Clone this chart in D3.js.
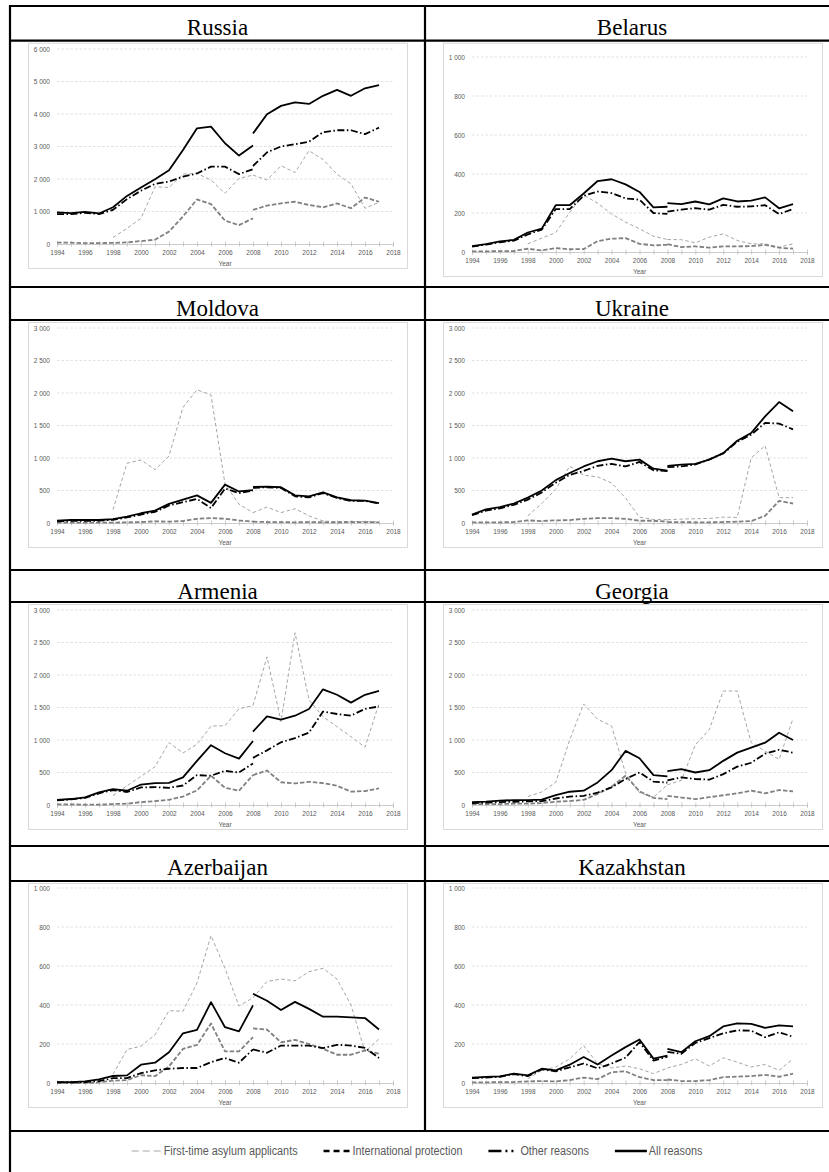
<!DOCTYPE html>
<html>
<head>
<meta charset="utf-8">
<script src="https://cdn.jsdelivr.net/npm/d3@7"></script>
<style>
body { margin: 0; background: #fff; }
svg { display: block; }
</style>
</head>
<body>
<svg id="page" width="829" height="1172"></svg>
<script>
// years: values up to 2008 use the old series, from 2008 the new one (break in 2008)
var yearsOld = [1994,1995,1996,1997,1998,1999,2000,2001,2002,2003,2004,2005,2006,2007,2008];
var yearsNew = [2008,2009,2010,2011,2012,2013,2014,2015,2016,2017];
var yearTicks = [1994,1995,1996,1997,1998,1999,2000,2001,2002,2003,2004,2005,2006,2007,2008,2009,2010,2011,2012,2013,2014,2015,2016,2017,2018];

var countries = ["Russia","Belarus","Moldova","Ukraine","Armenia","Georgia","Azerbaijan","Kazakhstan"];
var yMaxes = [6000,1000,3000,3000,3000,3000,1000,1000];
var ySteps = [1000,200,500,500,500,500,200,200];
var seriesNames = ["First-time asylum applicants","International protection","Other reasons","All reasons"];

// each array: 15 old values (1994-2008) then 10 new values (2008-2017)
var russiaFirst = [null,null,null,null,200,480,790,1760,1740,2150,2170,1970,1560,2020,2120, 2120,1970,2410,2200,2870,2600,2150,1850,1100,1280];
var russiaProt  = [40,40,25,25,35,50,90,130,380,850,1370,1230,720,580,790, 1050,1180,1250,1300,1200,1130,1250,1100,1430,1300];
var russiaOther = [920,920,960,920,1050,1380,1640,1850,1920,2070,2170,2380,2380,2150,2300, 2400,2820,3000,3070,3150,3440,3500,3500,3380,3580];
var russiaAll   = [970,950,990,940,1130,1480,1740,1990,2270,2890,3560,3610,3100,2720,3030, 3400,3990,4250,4360,4310,4560,4740,4560,4790,4890];

var belarusFirst = [null,null,null,null,42,71,100,203,292,250,195,153,119,81,64, 64,63,47,76,93,59,42,42,25,42];
var belarusProt  = [3,3,5,5,17,8,20,14,15,56,68,71,42,34,37, 40,25,29,22,29,29,30,37,22,17];
var belarusOther = [28,38,50,58,90,115,220,220,288,310,302,275,268,200,195, 207,217,225,217,242,232,234,240,195,220];
var belarusAll   = [30,40,55,62,100,120,240,240,300,364,373,347,308,229,232, 251,246,259,244,275,259,263,280,224,246];

var moldovaFirst = [null,null,null,null,205,920,970,820,1030,1780,2050,1970,600,290,160, 160,245,160,220,110,30,20,25,20,15];
var moldovaProt  = [5,5,5,5,5,10,15,25,20,30,65,75,65,40,20, 20,15,15,10,15,10,10,15,15,10];
var moldovaOther = [25,35,35,35,50,85,130,170,270,320,370,230,530,460,500, 540,550,540,410,395,460,385,340,340,300];
var moldovaAll   = [36,46,46,46,60,98,150,190,294,360,425,310,590,485,505, 555,560,550,425,410,470,395,350,345,305];

var ukraineFirst = [null,null,null,null,110,300,520,875,735,710,615,385,90,55,50, 50,60,65,70,90,85,1000,1190,390,390];
var ukraineProt  = [10,10,10,15,40,30,40,45,65,75,75,65,35,35,20, 15,15,10,10,15,20,30,110,340,300];
var ukraineOther = [120,190,225,280,360,470,620,740,800,880,910,870,940,810,800, 860,870,900,980,1070,1250,1360,1540,1530,1440];
var ukraineAll   = [130,210,245,300,390,500,660,770,870,950,990,950,975,835,805, 880,897,910,975,1075,1265,1385,1640,1860,1720];

var armeniaFirst = [null,null,null,null,145,296,440,590,960,800,935,1214,1220,1480,1530, 1530,2280,1285,2650,1615,1360,1205,1050,890,1560];
var armeniaProt  = [10,10,5,5,15,20,45,60,80,130,225,450,265,220,460, 460,530,350,332,357,337,296,205,215,255];
var armeniaOther = [70,85,110,180,230,200,270,275,265,300,460,450,525,500,640, 725,840,965,1030,1115,1438,1400,1375,1480,1515];
var armeniaAll   = [80,92,117,194,245,219,315,335,340,425,680,920,796,714,985, 1130,1362,1312,1374,1476,1780,1696,1575,1696,1755];

var georgiaFirst = [null,null,null,null,130,200,350,1000,1555,1320,1215,490,190,120,310, 310,380,925,1160,1754,1754,960,830,700,1330];
var georgiaProt  = [15,15,15,20,20,30,50,60,80,170,280,450,210,110,90, 140,115,90,120,150,180,220,180,230,210];
var georgiaOther = [30,35,45,50,55,60,100,130,140,190,270,400,500,360,345, 380,425,400,390,475,590,650,790,850,805];
var georgiaAll   = [45,51,66,76,76,82,153,204,220,347,536,832,720,459,439, 520,551,500,536,679,806,883,959,1112,1000];

var azerFirst = [null,null,null,null,45,172,189,247,371,368,513,756,588,395,437, 437,521,533,524,571,588,533,400,160,226];
var azerProt  = [0,0,0,3,12,15,40,35,85,175,195,305,162,162,235, 280,274,209,221,200,175,145,145,167,150];
var azerOther = [3,3,5,10,25,25,51,65,73,77,77,107,128,104,172, 172,155,192,192,192,179,196,192,180,128];
var azerAll   = [5,5,8,19,36,39,94,104,158,255,272,415,286,265,398, 458,422,374,416,380,340,340,337,333,274];

var kazFirst = [null,null,null,null,22,65,82,124,192,99,77,87,73,48,77, 77,95,124,87,129,107,82,95,65,124];
var kazProt  = [3,3,5,5,8,10,8,15,28,20,55,60,30,15,15, 18,10,10,15,30,33,35,42,32,48];
var kazOther = [25,28,32,45,35,70,60,80,100,75,100,130,210,115,135, 160,150,205,230,255,270,268,235,260,237];
var kazAll   = [27,31,34,48,39,73,65,94,133,95,141,184,223,125,140, 175,158,214,240,290,306,303,283,295,290];

var countrySeries = [
	[russiaFirst, russiaProt, russiaOther, russiaAll],
	[belarusFirst, belarusProt, belarusOther, belarusAll],
	[moldovaFirst, moldovaProt, moldovaOther, moldovaAll],
	[ukraineFirst, ukraineProt, ukraineOther, ukraineAll],
	[armeniaFirst, armeniaProt, armeniaOther, armeniaAll],
	[georgiaFirst, georgiaProt, georgiaOther, georgiaAll],
	[azerFirst, azerProt, azerOther, azerAll],
	[kazFirst, kazProt, kazOther, kazAll]
];

// line looks inside the charts
var lineStyles = [
	{stroke: "#a6a6a6", width: 1, dash: "3.5,2.5"},
	{stroke: "#808080", width: 1.8, dash: "4.5,2"},
	{stroke: "#000", width: 1.8, dash: "7,2.5,1.5,2.5"},
	{stroke: "#000", width: 1.8, dash: null}
];
// line looks in the legend
var legendStyles = [
	{stroke: "#a6a6a6", width: 1.2, dash: "7,4", len: 30},
	{stroke: "#000", width: 2.4, dash: "6,4", len: 27},
	{stroke: "#000", width: 2.4, dash: "13,4,2,4,2,10", len: 30},
	{stroke: "#000", width: 2.4, dash: null, len: 32}
];

// table layout
var rowTops = [6, 287, 570, 846];
var titleBottoms = [40.7, 320, 602, 881];
var rowBottoms = [287, 570, 846, 1131];
var cols = [
	{boxL: 28, boxR: 407, plotL: 57, plotR: 393, titleX: 217.5},
	{boxL: 443, boxR: 822, plotL: 472, plotR: 807, titleX: 632}
];
var plotTops = [49, 57, 328, 328, 610, 610, 888, 888];
var plotH = 195;

var axisFont = "'Liberation Sans Narrow', 'Liberation Sans', Arial, sans-serif";
var locale = d3.formatLocale({decimal: ".", thousands: " ", grouping: [3], currency: ["", ""]});
var fmt = locale.format(",");

var svg = d3.select("#page");
svg.append("rect").attr("width", 829).attr("height", 1172).attr("fill", "#fff");

countries.forEach(function(name, k) {
	var row = Math.floor(k / 2);
	var col = cols[k % 2];
	var top = plotTops[k];
	var zero = top + plotH;

	var g = svg.append("g").attr("class", "panel");

	// title
	g.append("text")
		.attr("x", col.titleX)
		.attr("y", rowTops[row] + 28.5)
		.attr("text-anchor", "middle")
		.style("font-family", "'Liberation Serif', 'Times New Roman', serif")
		.style("font-size", "23px")
		.text(name);

	// chart area border
	g.append("rect")
		.attr("x", col.boxL + 0.5)
		.attr("y", titleBottoms[row] + 2.5)
		.attr("width", col.boxR - col.boxL)
		.attr("height", zero + 24 - titleBottoms[row] - 2)
		.attr("fill", "#fff")
		.attr("stroke", "#d9d9d9")
		.attr("stroke-width", 1);

	var x = d3.scaleLinear().domain([1994, 2018]).range([col.plotL, col.plotR]);
	var y = d3.scaleLinear().domain([0, yMaxes[k]]).range([zero, top]);
	var yTicks = d3.range(0, yMaxes[k] + 1, ySteps[k]);

	// gridlines
	g.append("g").selectAll("line")
		.data(yTicks.filter(function(d) { return d > 0; }))
		.enter().append("line")
		.attr("x1", col.plotL).attr("x2", col.plotR)
		.attr("y1", function(d) { return y(d); })
		.attr("y2", function(d) { return y(d); })
		.attr("stroke", "#d9d9d9")
		.attr("stroke-width", 0.8)
		.attr("stroke-dasharray", "2.5,2");

	// y axis labels
	var yAxis = g.append("g")
		.attr("transform", "translate(" + col.plotL + ",0)")
		.call(d3.axisLeft(y).tickValues(yTicks).tickSize(0).tickPadding(7).tickFormat(fmt));
	yAxis.select(".domain").remove();
	yAxis.selectAll("text")
		.style("font-family", axisFont)
		.style("font-size", "6.5px")
		.attr("fill", "#595959");

	// x axis
	var xAxis = g.append("g")
		.attr("transform", "translate(0," + zero + ")")
		.call(d3.axisBottom(x).tickValues(yearTicks)
			.tickFormat(function(d) { return d % 2 === 0 ? d : ""; })
			.tickSize(2.5).tickPadding(4));
	xAxis.select(".domain").attr("stroke", "#bfbfbf").attr("stroke-width", 0.8);
	xAxis.selectAll(".tick line").attr("stroke", "#bfbfbf").attr("stroke-width", 0.8).attr("y1", -2.5);
	xAxis.selectAll("text")
		.style("font-family", axisFont)
		.style("font-size", "6.5px")
		.attr("fill", "#595959");

	g.append("text")
		.attr("x", (col.plotL + col.plotR) / 2)
		.attr("y", zero + 22)
		.attr("text-anchor", "middle")
		.style("font-family", axisFont)
		.style("font-size", "6.5px")
		.attr("fill", "#595959")
		.text("Year");

	// series lines, old and new parts drawn apart
	var line = d3.line()
		.defined(function(d) { return d.v != null; })
		.x(function(d) { return x(d.yr); })
		.y(function(d) { return y(d.v); });

	countrySeries[k].forEach(function(vals, s) {
		var pts = vals.map(function(v, i) {
			return {yr: i < 15 ? yearsOld[i] : yearsNew[i - 15], v: v, seg: i < 15 ? 0 : 1};
		});
		[0, 1].forEach(function(seg) {
			g.append("path")
				.datum(pts.filter(function(d) { return d.seg === seg; }))
				.attr("d", line)
				.attr("fill", "none")
				.attr("stroke", lineStyles[s].stroke)
				.attr("stroke-width", lineStyles[s].width)
				.attr("stroke-dasharray", lineStyles[s].dash)
				.attr("stroke-linejoin", "round");
		});
	});
});

// legend row
var legend = svg.append("g").attr("class", "legend");
var legendY = 1151;
var items = legend.selectAll("g").data(seriesNames).enter().append("g");
items.append("line")
	.attr("x1", 0)
	.attr("x2", function(d, i) { return legendStyles[i].len; })
	.attr("y1", legendY).attr("y2", legendY)
	.attr("stroke", function(d, i) { return legendStyles[i].stroke; })
	.attr("stroke-width", function(d, i) { return legendStyles[i].width; })
	.attr("stroke-dasharray", function(d, i) { return legendStyles[i].dash; });
items.append("text")
	.attr("x", function(d, i) { return legendStyles[i].len + 2; })
	.attr("y", legendY + 4)
	.style("font-family", axisFont)
	.style("font-size", "12px")
	.attr("fill", "#595959")
	.text(function(d) { return d; });

// squeeze the legend words a little, like the narrow font of the original
var widths = [];
items.each(function() {
	var t = d3.select(this).select("text");
	var w = t.node().getComputedTextLength() * 0.9;
	t.attr("textLength", w).attr("lengthAdjust", "spacingAndGlyphs");
	widths.push(w);
});
var spans = widths.map(function(w, i) { return legendStyles[i].len + 2 + w; });
var total = d3.sum(spans) + (spans.length - 1) * 26;
var pos = 417 - total / 2;
items.attr("transform", function(d, i) {
	var t = "translate(" + pos + ",0)";
	pos += spans[i] + 26;
	return t;
});

// table borders
var borders = svg.append("g").attr("stroke", "#000").attr("stroke-width", 2.2);
var hLines = [rowTops[0]].concat(titleBottoms, rowBottoms);
borders.selectAll("line.h").data(hLines).enter().append("line")
	.attr("class", "h")
	.attr("x1", 9).attr("x2", 829)
	.attr("y1", function(d) { return d; })
	.attr("y2", function(d) { return d; });
borders.append("line").attr("x1", 10).attr("x2", 10).attr("y1", 5).attr("y2", 1172);
borders.append("line").attr("x1", 425).attr("x2", 425).attr("y1", 5).attr("y2", rowBottoms[3]);
</script>
</body>
</html>
